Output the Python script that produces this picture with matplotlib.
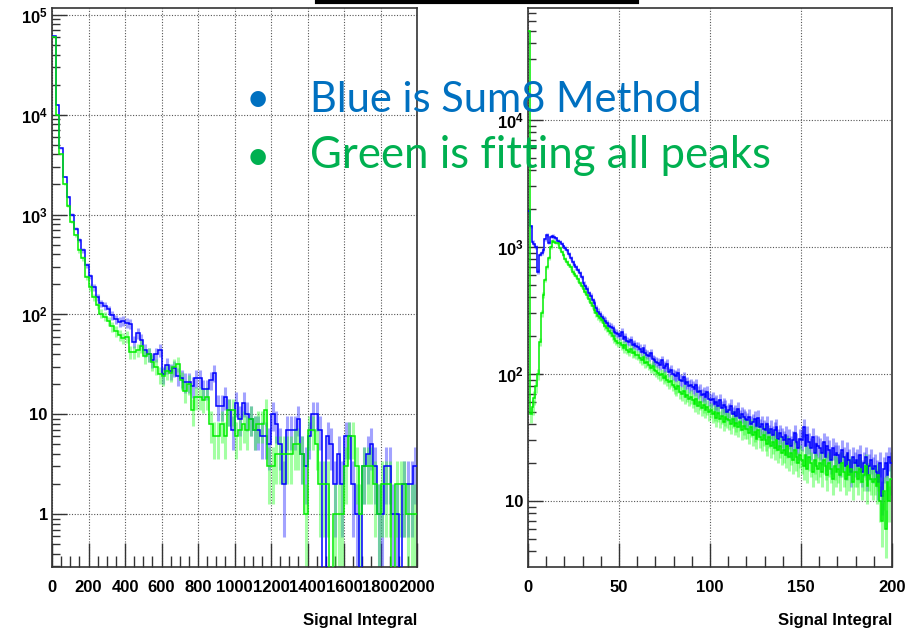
import numpy as np
import matplotlib
matplotlib.use('Agg')
import matplotlib.pyplot as plt
from matplotlib.lines import Line2D
from matplotlib.ticker import FixedLocator, LogLocator, MultipleLocator, NullFormatter

plt.rcParams['font.family'] = ['Liberation Sans', 'DejaVu Sans']
plt.rcParams['font.weight'] = 'bold'
plt.rcParams['axes.labelweight'] = 'bold'
plt.rcParams['mathtext.fontset'] = 'custom'
plt.rcParams['mathtext.rm'] = 'Liberation Sans:bold'
plt.rcParams['mathtext.default'] = 'rm'

# left plot: 0-2000, 100 bins
left_range = (0, 2000)
left_blue = [61000, 12600, 4600, 2400, 1500, 1000, 724, 560, 437, 309,
             240, 186, 148, 129, 122, 112, 98, 90, 84, 86,
             82, 80, 53, 65, 56, 44, 40, 35, 40, 44,
             25, 31, 27, 29, 24, 23, 21, 21, 19, 23,
             23, 18, 18, 22, 26, 12, 12, 15, 11, 7,
             13, 9, 13, 10, 9, 7, 7, 6, 6, 5,
             10, 8, 5, 2, 7, 7, 7, 9, 4, 3,
             6, 10, 10, 7, 0, 6, 5, 2, 4, 2,
             6, 6, 2, 1, 0, 3, 4, 5, 3, 1,
             1, 3, 3, 1, 1, 0, 2, 2, 2, 3]
left_green = [60000, 10000, 4000, 2000, 1230, 850, 620, 437, 363, 235,
              186, 148, 123, 102, 95, 85, 76, 68, 62, 58,
              60, 42, 42, 44, 48, 38, 40, 33, 30, 25,
              24, 27, 26, 30, 32, 22, 17, 20, 11, 15,
              15, 14, 15, 8, 6, 6, 8, 6, 11, 11,
              6, 7, 8, 7, 9, 7, 8, 8, 11, 3,
              3, 4, 4, 4, 4, 4, 5, 5, 4, 1,
              7, 7, 5, 2, 2, 2, 0, 1, 1, 1,
              3, 6, 6, 3, 1, 3, 3, 3, 2, 1,
              2, 2, 2, 0, 2, 2, 2, 1, 1, 1]

# right plot: 0-200, 200 bins
right_range = (0, 200)
right_blue = [1900, 1450, 1100, 1050, 1000, 640, 870, 900, 950, 1150,
              1240, 1080, 1200, 1220, 1190, 1170, 1120, 1100, 1060, 1010,
              980, 940, 880, 820, 760, 720, 690, 660, 620, 580,
              520, 490, 470, 430, 410, 380, 360, 330, 310, 295,
              280, 270, 262, 250, 240, 235, 228, 215, 210, 205,
              200, 215, 190, 195, 182, 178, 185, 170, 172, 166,
              164, 158, 150, 160, 146, 142, 138, 145, 130, 128,
              125, 122, 118, 128, 112, 115, 120, 104, 108, 100,
              98, 96, 102, 90, 88, 94, 84, 86, 80, 82,
              79, 76, 82, 72, 74, 68, 70, 66, 72, 64,
              62, 64, 58, 60, 56, 62, 54, 57, 55, 50,
              52, 56, 48, 50, 47, 53, 45, 48, 46, 44,
              43, 46, 40, 42, 44, 39, 45, 38, 40, 37,
              36, 40, 34, 37, 33, 36, 38, 31, 34, 32,
              30, 33, 28, 31, 27, 30, 34, 29, 26, 31,
              30, 38, 27, 33, 29, 26, 32, 24, 28, 27,
              26, 24, 29, 22, 27, 25, 21, 26, 23, 24,
              23, 20, 25, 22, 19, 24, 21, 17, 22, 20,
              21, 19, 23, 17, 20, 22, 16, 19, 21, 18,
              19, 17, 14, 20, 11, 18, 20, 16, 22, 20]
right_green = [50000, 48, 55, 65, 80, 100, 180, 300, 420, 550,
               700, 820, 1000, 1120, 1100, 1080, 1070, 980, 920, 870,
               800, 760, 720, 690, 640, 615, 590, 555, 520, 495,
               470, 445, 420, 390, 360, 340, 320, 300, 285, 275,
               268, 250, 238, 228, 218, 210, 200, 190, 182, 176,
               175, 168, 160, 170, 155, 150, 158, 145, 148, 142,
               140, 134, 128, 136, 122, 125, 118, 112, 116, 108,
               105, 102, 98, 100, 93, 96, 90, 86, 88, 82,
               79, 76, 80, 72, 70, 74, 66, 68, 64, 66,
               62, 58, 64, 56, 60, 54, 57, 52, 55, 50,
               52, 48, 50, 45, 49, 44, 47, 42, 46, 44,
               43, 40, 44, 39, 41, 38, 42, 36, 39, 37,
               37, 34, 38, 33, 35, 31, 36, 32, 30, 33,
               30, 28, 32, 27, 29, 26, 30, 25, 27, 24,
               25, 23, 27, 22, 24, 21, 25, 22, 20, 23,
               21, 19, 23, 18, 22, 20, 17, 21, 19, 18,
               20, 17, 21, 19, 16, 20, 18, 15, 19, 17,
               18, 16, 20, 17, 15, 19, 16, 18, 14, 17,
               17, 15, 18, 14, 16, 19, 13, 16, 15, 14,
               15, 13, 16, 10, 7, 12, 6, 14, 10, 15]

left_xticks = [0, 200, 400, 600, 800, 1000, 1200, 1400, 1600, 1800, 2000]
right_xticks = [0, 50, 100, 150, 200]
left_yticks = [1, 10, 100, 1000, 10000, 100000]
left_ylabels = ['1', '10', '$10^{2}$', '$10^{3}$', '$10^{4}$', '$10^{5}$']
right_yticks = [10, 100, 1000, 10000]
right_ylabels = ['10', '$10^{2}$', '$10^{3}$', '$10^{4}$']

blue_line, blue_err = '#0000ff', '#3333ff'
green_line, green_err = '#00ee00', '#33ff33'


def draw_hist(ax, rng, vals, line_col, err_col):
    vals = np.array(vals, dtype=float)
    edges = np.linspace(rng[0], rng[1], len(vals) + 1)
    centers = 0.5 * (edges[:-1] + edges[1:])
    m = vals > 0
    ax.errorbar(centers[m], vals[m], yerr=np.sqrt(vals[m]), fmt='none',
                ecolor=err_col, elinewidth=2.2, alpha=0.45, zorder=2)
    ax.stairs(vals, edges, baseline=None, color=line_col, lw=1.1, zorder=3)


def style_axes(ax, rng, xticks, xminor, yticks, ylabels, ylim):
    ax.set_yscale('log')
    ax.set_xlim(rng)
    ax.set_ylim(ylim)
    ax.xaxis.set_major_locator(FixedLocator(xticks))
    ax.set_xticklabels([str(t) for t in xticks])
    ax.xaxis.set_minor_locator(MultipleLocator(xminor))
    ax.yaxis.set_major_locator(FixedLocator(yticks))
    ax.set_yticklabels(ylabels)
    ax.yaxis.set_minor_locator(LogLocator(base=10, subs=np.arange(2, 10), numticks=30))
    ax.yaxis.set_minor_formatter(NullFormatter())
    ax.tick_params(which='both', direction='in', top=False, right=False,
                   colors='#333333', labelcolor='black', labelsize=12)
    ax.tick_params(axis='x', which='major', length=17, width=1.0, pad=9)
    ax.tick_params(axis='x', which='minor', length=8, width=1.0)
    ax.tick_params(axis='y', which='major', length=11, width=1.0, pad=3)
    ax.tick_params(axis='y', which='minor', length=6, width=1.0)
    ax.grid(True, which='major', color='#555555', linestyle=(0, (1, 1.5)), lw=0.8)
    for s in ax.spines.values():
        s.set_color('#333333')
        s.set_linewidth(1.2)
    ax.set_xlabel('Signal Integral', loc='right', fontsize=12, fontweight='bold', labelpad=13)


fig = plt.figure(figsize=(9.17, 6.3), dpi=100)
ax1 = fig.add_axes([52 / 917, 1 - 567 / 630, 365 / 917, 559 / 630])
ax2 = fig.add_axes([528 / 917, 1 - 567 / 630, 364 / 917, 559 / 630])

draw_hist(ax1, left_range, left_blue, blue_line, blue_err)
draw_hist(ax1, left_range, left_green, green_line, green_err)
style_axes(ax1, left_range, left_xticks, 50, left_yticks, left_ylabels, (0.295, 1.17e5))

draw_hist(ax2, right_range, right_blue, blue_line, blue_err)
draw_hist(ax2, right_range, right_green, green_line, green_err)
style_axes(ax2, right_range, right_xticks, 10, right_yticks, right_ylabels, (3.02, 7.6e4))

# slide text over the plots
fig.text(258 / 917, 1 - 112 / 630, '\u2022', color='#0070C0', fontsize=30,
         family='Lato', weight='normal', ha='center', va='baseline')
fig.text(310 / 917, 1 - 112 / 630, 'Blue is Sum8 Method', color='#0070C0',
         fontsize=30, family='Lato', weight='normal', va='baseline')
fig.text(258 / 917, 1 - 170 / 630, '\u2022', color='#00B050', fontsize=30,
         family='Lato', weight='normal', ha='center', va='baseline')
fig.text(310 / 917, 1 - 168 / 630, 'Green is fitting all peaks', color='#00B050',
         fontsize=31.5, family='Lato', weight='normal', va='baseline')

# cut-off title underline at the top
fig.add_artist(Line2D([317 / 917, 637 / 917], [1 - 2 / 630, 1 - 2 / 630],
                      color='black', lw=3))

fig.savefig('out.png', dpi=100)
